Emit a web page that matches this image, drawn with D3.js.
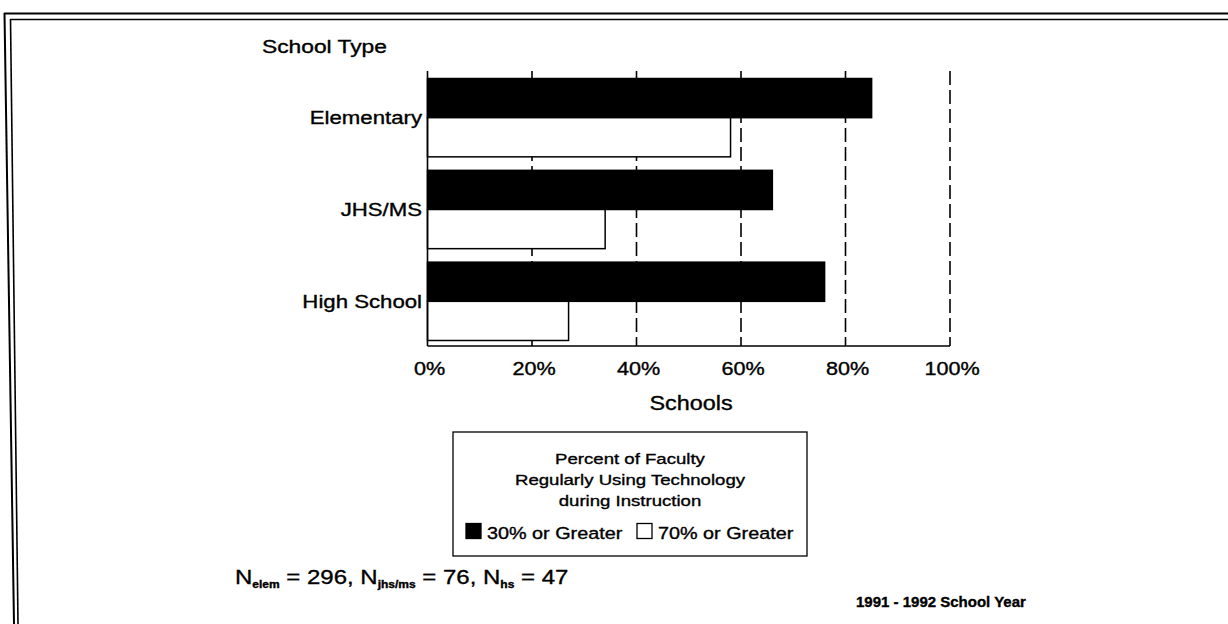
<!DOCTYPE html>
<html>
<head>
<meta charset="utf-8">
<script src="https://cdn.jsdelivr.net/npm/d3@7"></script>
<style>
  html, body { margin: 0; padding: 0; background: #fff; }
  svg { display: block; }
  text { font-family: "Liberation Sans", Arial, Helvetica, sans-serif; fill: #000; stroke: #000; stroke-width: 0.35px; }
</style>
</head>
<body>
<svg id="chart" width="1228" height="624"></svg>
<script>
// ---- data ----
const categories = ["Elementary", "JHS/MS", "High School"];
const seriesNames = ["30% or Greater", "70% or Greater"];
const pct30 = [85, 66, 76];
const pct70 = [58, 34, 27];
const tickValues = [0, 20, 40, 60, 80, 100];
const tickLabels = ["0%", "20%", "40%", "60%", "80%", "100%"];
const legendTitle = ["Percent of Faculty", "Regularly Using Technology", "during Instruction"];

const svg = d3.select("#chart");
const SX = 1.2; // horizontal stretch of the scanned lettering

function stretched(parent, x, y, sx) {
  return parent.append("g").attr("transform", `translate(${x},${y}) scale(${sx},1)`);
}

// ---- page frame ----
const frame = svg.append("g").attr("fill", "none").attr("stroke", "#000");
frame.append("line").attr("x1", 4).attr("y1", 13.5).attr("x2", 1228).attr("y2", 13.5).attr("stroke-width", 2.2);
frame.append("line").attr("x1", 10).attr("y1", 19.5).attr("x2", 1228).attr("y2", 19.5).attr("stroke-width", 1.6);
frame.append("line").attr("x1", 4.5).attr("y1", 13).attr("x2", 14).attr("y2", 624).attr("stroke-width", 2);
frame.append("line").attr("x1", 10.5).attr("y1", 19).attr("x2", 18).attr("y2", 624).attr("stroke-width", 1.6);

// ---- scales ----
const x = d3.scaleLinear().domain([0, 100]).range([427.5, 950]);
const y = d3.scaleBand().domain(categories).range([73, 346]).paddingInner(0.147).paddingOuter(0.06);
const ySub = d3.scaleBand().domain(seriesNames).range([0, y.bandwidth()]);

const rows = categories.map((c, i) => ({ cat: c, values: [pct30[i], pct70[i]] }));

// ---- dashed grid ----
svg.append("g").selectAll("line").data(tickValues.filter(v => v > 0)).join("line")
  .attr("x1", d => x(d)).attr("x2", d => x(d))
  .attr("y1", 71).attr("y2", 346)
  .attr("stroke", "#000").attr("stroke-width", 1.6).attr("stroke-dasharray", "14,5");

// ---- bars ----
const g = svg.append("g").selectAll("g").data(rows).join("g")
  .attr("transform", d => `translate(0,${y(d.cat)})`);
g.selectAll("rect").data(d => d.values.map((v, j) => ({ v, s: seriesNames[j], j }))).join("rect")
  .attr("x", x(0))
  .attr("y", d => ySub(d.s))
  .attr("width", d => x(d.v) - x(0))
  .attr("height", ySub.bandwidth())
  .attr("fill", d => d.j === 0 ? "#000" : "#fff")
  .attr("stroke", "#000").attr("stroke-width", 1.5);

// ---- axes lines ----
svg.append("line").attr("x1", x(0)).attr("x2", x(0)).attr("y1", 71).attr("y2", 346)
  .attr("stroke", "#000").attr("stroke-width", 1.6);
svg.append("line").attr("x1", x(0)).attr("x2", x(100)).attr("y1", 346).attr("y2", 346)
  .attr("stroke", "#000").attr("stroke-width", 1.6);

// ---- x axis tick labels (d3 axis) ----
const xAxis = d3.axisBottom(x).tickValues(tickValues).tickFormat((d, i) => tickLabels[i]).tickSize(0).tickPadding(0);
const axG = svg.append("g").attr("transform", "translate(1.5,346)").call(xAxis);
axG.select(".domain").remove();
axG.selectAll(".tick text")
  .attr("font-size", 18).attr("font-family", null).attr("dy", null).attr("y", 29)
  .attr("transform", `scale(${SX},1)`);
axG.attr("font-family", null).attr("font-size", null);

// ---- category labels ----
categories.forEach(c => {
  stretched(svg, 422, y(c) + y.bandwidth() / 2 + 6.5, SX).append("text")
    .attr("text-anchor", "end").attr("font-size", 18.5).text(c);
});

// ---- titles ----
stretched(svg, 262, 53, SX).append("text").attr("font-size", 19).text("School Type");
stretched(svg, 691, 410, 1.17).append("text").attr("text-anchor", "middle").attr("font-size", 20).text("Schools");

// ---- legend ----
svg.append("rect").attr("x", 453).attr("y", 432).attr("width", 354).attr("height", 124)
  .attr("fill", "#fff").attr("stroke", "#000").attr("stroke-width", 1.3);
legendTitle.forEach((t, i) => {
  stretched(svg, 630, 464 + i * 21, SX).append("text")
    .attr("text-anchor", "middle").attr("font-size", 15.5).text(t);
});
const legX = [466, 637];
seriesNames.forEach((s, j) => {
  svg.append("rect").attr("x", legX[j]).attr("y", 523.5).attr("width", 15).attr("height", 15)
    .attr("fill", j === 0 ? "#000" : "#fff").attr("stroke", "#000").attr("stroke-width", 1.3);
  stretched(svg, legX[j] + 21, 539, SX).append("text").attr("font-size", 16.5).text(s);
});

// ---- footnotes ----
const fn = stretched(svg, 235, 584, 1.2).append("text").attr("font-size", 20);
const parts = [["N", false], ["elem", true], [" = 296, N", false], ["jhs/ms", true], [" = 76, N", false], ["hs", true], [" = 47", false]];
parts.forEach(([t, sub], k) => {
  const ts = fn.append("tspan").text(t);
  if (sub) ts.attr("font-size", 10).attr("font-weight", "bold").attr("dy", 4);
  else ts.attr("dy", k > 0 ? -4 : 0);
});
svg.append("text").attr("x", 856).attr("y", 607).attr("font-size", 15).attr("font-weight", "bold")
  .text("1991 - 1992 School Year");
</script>
</body>
</html>
